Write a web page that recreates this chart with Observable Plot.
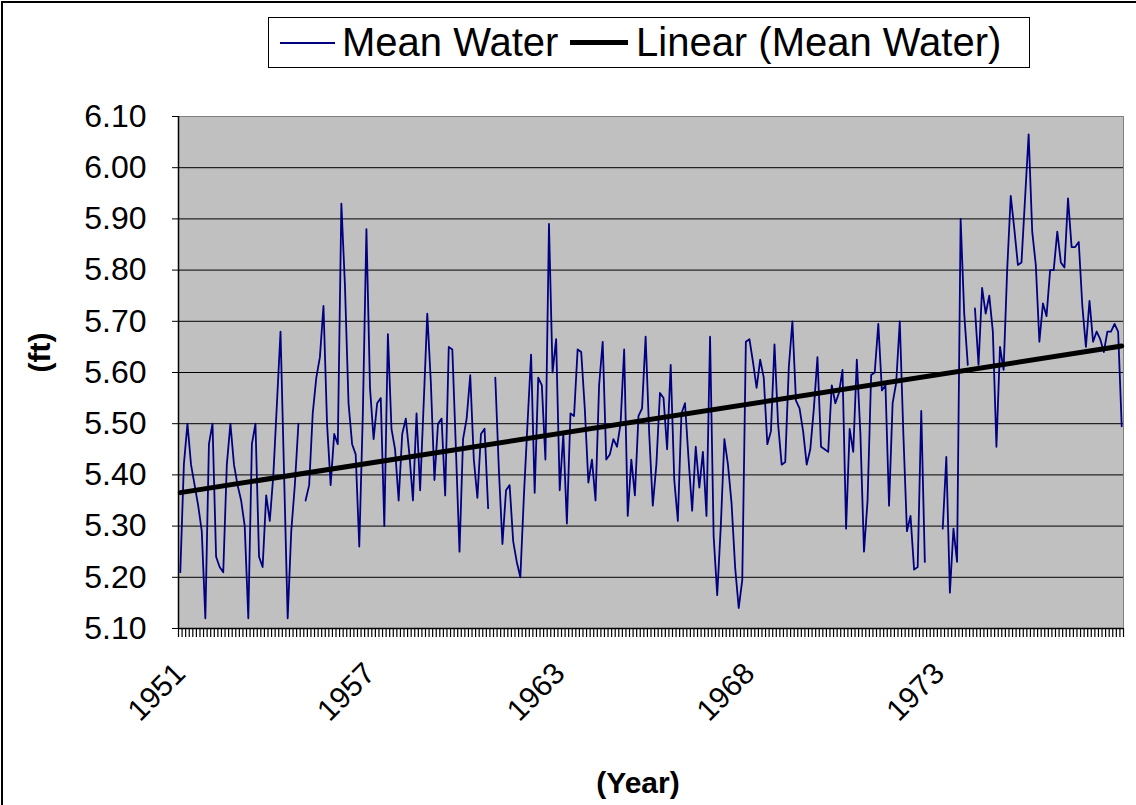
<!DOCTYPE html>
<html>
<head>
<meta charset="utf-8">
<script src="https://cdn.jsdelivr.net/npm/d3@7"></script>
<script src="https://cdn.jsdelivr.net/npm/@observablehq/plot@0.6"></script>
<style>
html,body{margin:0;padding:0;background:#fff;}
#wrap{position:relative;width:1136px;height:805px;overflow:hidden;font-family:"Liberation Sans",Arial,sans-serif;background:#fff;}
#border{position:absolute;left:1px;top:1px;width:1300px;height:1000px;border-left:2px solid #000;border-top:2px solid #000;box-sizing:border-box;}
#chart{position:absolute;left:0;top:0;}
#legend{position:absolute;left:268px;top:17px;width:762px;height:51px;border:1px solid #000;background:#fff;box-sizing:border-box;}
#legend .sw{position:absolute;display:block;}
#legend .lt{position:absolute;top:0;line-height:49px;font-size:40px;white-space:nowrap;color:#000;}
</style>
</head>
<body>
<div id="wrap">
  <div id="border"></div>
  <div id="chart"></div>
  <div id="legend">
    <span class="sw" style="left:11px;top:24px;width:55px;height:2px;background:#000080"></span>
    <span class="lt" style="left:73px">Mean Water</span>
    <span class="sw" style="left:301px;top:22px;width:58px;height:5px;background:#000"></span>
    <span class="lt" style="left:367px">Linear (Mean Water)</span>
  </div>
</div>
<script>
// Mean water level (ft), one value per category; null = missing
const meanWater = [
  5.21,5.42,5.50,5.42,5.38,5.34,5.29,5.12,5.46,5.50,
  5.24,5.22,5.21,5.42,5.50,5.42,5.38,5.35,5.30,5.12,
  5.46,5.50,5.24,5.22,5.36,5.31,5.40,5.54,5.68,5.40,
  5.12,5.29,5.38,5.50,null,5.35,5.38,5.52,5.59,5.63,
  5.73,5.50,5.38,5.48,5.46,5.93,5.77,5.54,5.46,5.44,
  5.26,5.52,5.88,5.57,5.47,5.54,5.55,5.30,5.675,5.49,
  5.45,5.35,5.48,5.51,5.44,5.35,5.52,5.37,5.54,5.715,
  5.58,5.39,5.50,5.51,5.36,5.65,5.645,5.45,5.25,5.47,
  5.51,5.595,5.43,5.355,5.48,5.49,5.335,null,5.59,5.41,
  5.265,5.37,5.38,5.27,5.23,5.20,5.36,5.50,5.635,5.365,
  5.59,5.575,5.43,5.89,5.60,5.665,5.37,5.48,5.305,5.52,
  5.515,5.645,5.64,5.53,5.385,5.43,5.35,5.575,5.66,5.43,
  5.44,5.47,5.455,5.50,5.645,5.32,5.43,5.36,5.515,5.53,
  5.67,5.48,5.34,5.42,5.56,5.55,5.45,5.615,5.39,5.31,
  5.52,5.54,5.43,5.33,5.455,5.375,5.445,5.32,5.67,5.28,
  5.165,5.30,5.47,5.42,5.345,5.22,5.14,5.195,5.66,5.665,
  5.62,5.57,5.625,5.59,5.46,5.485,5.655,5.50,5.42,5.425,
  5.61,5.70,5.545,5.53,5.485,5.42,5.45,5.53,5.63,5.455,
  5.45,5.445,5.575,5.54,5.56,5.605,5.295,5.49,5.445,5.625,
  5.48,5.25,5.35,5.595,5.60,5.695,5.565,5.575,5.34,5.54,
  5.58,5.70,5.48,5.29,5.32,5.215,5.22,5.525,5.23,null,
  null,null,null,5.295,5.435,5.17,5.295,5.23,5.90,5.715,
  5.615,null,5.725,5.615,5.765,5.715,5.75,5.68,5.455,5.65,
  5.605,5.80,5.945,5.88,5.81,5.815,5.94,6.065,5.875,5.81,
  5.66,5.735,5.71,5.80,5.80,5.875,5.815,5.805,5.94,5.845,
  5.845,5.855,5.73,5.65,5.74,5.66,5.68,5.665,5.64,5.68,
  5.68,5.695,5.68,5.495
];
const yearLabels = ["1951", "1957", "1963", "1968", "1973"];
const yearLabelIndex = [0, 53, 106, 159, 212];
const yTicks = [5.10, 5.20, 5.30, 5.40, 5.50, 5.60, 5.70, 5.80, 5.90, 6.00, 6.10];

const table = meanWater.map((v, i) => ({i, v: v == null ? NaN : v}));
const present = table.filter(d => !isNaN(d.v));
const N = meanWater.length;
const boundaries = d3.range(N + 1).map(k => k - 0.5);

const chart = Plot.plot({
  width: 1136,
  height: 805,
  marginLeft: 178,
  marginRight: 13,
  marginTop: 116,
  marginBottom: 177,
  x: {domain: [-0.5, N - 0.5]},
  y: {domain: [5.10, 6.10]},
  style: {fontFamily: "'Liberation Sans', Arial, sans-serif", background: "transparent", color: "#000", overflow: "visible"},
  marks: [
    Plot.frame({fill: "#c0c0c0", stroke: "#808080"}),
    Plot.ruleY(yTicks.slice(1, -1), {stroke: "#000", strokeWidth: 1}),
    Plot.axisY({ticks: yTicks, tickFormat: d3.format(".2f"), tickSize: 6, tickPadding: 26, fontSize: 32, label: null, stroke: "#000"}),
    Plot.axisX({ticks: boundaries, tickFormat: () => "", tickSize: 9, label: null, stroke: "#000", strokeWidth: 1.2}),
    Plot.axisX({ticks: yearLabelIndex, tickFormat: (d, k) => yearLabels[k], tickSize: 0, tickPadding: 40, tickRotate: -45, fontSize: 30, label: null}),
    Plot.ruleY([5.10], {stroke: "#000", strokeWidth: 1.5}),
    Plot.ruleX([-0.5], {stroke: "#000", strokeWidth: 1.5}),
    Plot.lineY(table, {x: "i", y: "v", stroke: "#000080", strokeWidth: 1.8}),
    Plot.linearRegressionY(present, {x: "i", y: "v", stroke: "#000", strokeWidth: 5, ci: 0}),
    Plot.text(["(ft)"], {frameAnchor: "left", dx: -138, rotate: -90, fontSize: 30, fontWeight: "bold"}),
    Plot.text(["(Year)"], {frameAnchor: "bottom", dy: 164, dx: -13, fontSize: 30, fontWeight: "bold"})
  ]
});
document.getElementById("chart").appendChild(chart);
</script>
</body>
</html>
